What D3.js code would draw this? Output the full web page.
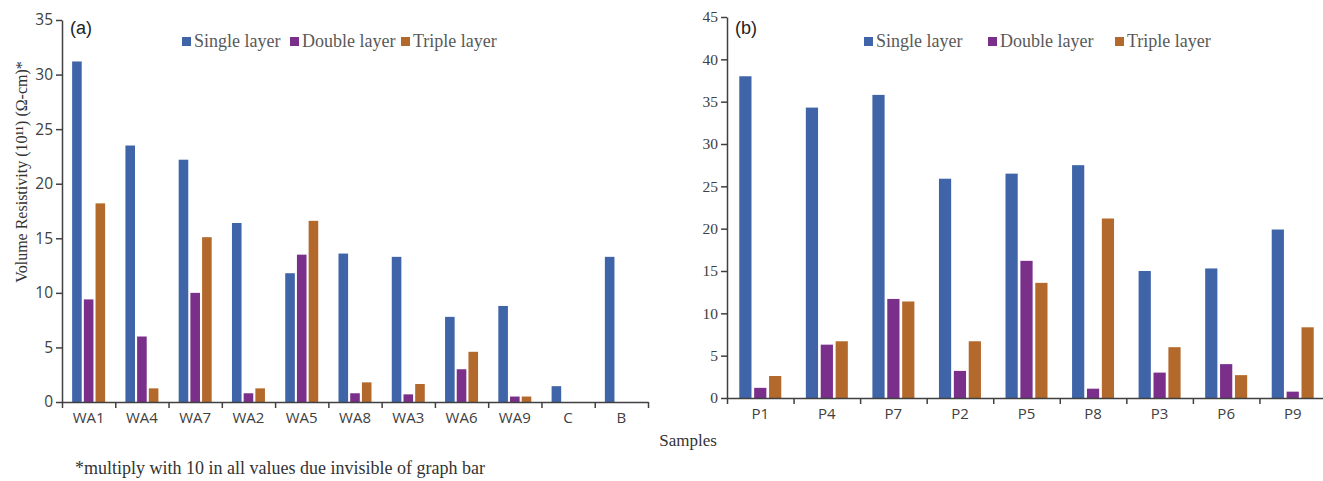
<!DOCTYPE html>
<html>
<head>
<meta charset="utf-8">
<script src="https://cdn.jsdelivr.net/npm/d3@7"></script>
<style>
  body { margin: 0; background: #fff; }
  svg { display: block; }
</style>
</head>
<body>
<div id="chart"></div>
<script>
const seriesNames = ['Single layer', 'Double layer', 'Triple layer'];
const colors = ['#3f65a8', '#7a2f8a', '#b3692b'];

// panel (a)
const samplesA = ['WA1', 'WA4', 'WA7', 'WA2', 'WA5', 'WA8', 'WA3', 'WA6', 'WA9', 'C', 'B'];
const singleA = [31.2, 23.5, 22.2, 16.4, 11.8, 13.6, 13.3, 7.8, 8.8, 1.45, 13.3];
const doubleA = [9.4, 6.0, 10.0, 0.8, 13.5, 0.8, 0.7, 3.0, 0.5, null, null];
const tripleA = [18.2, 1.25, 15.1, 1.25, 16.6, 1.8, 1.65, 4.6, 0.5, null, null];
const ticksA = [0, 5, 10, 15, 20, 25, 30, 35];

// panel (b)
const samplesB = ['P1', 'P4', 'P7', 'P2', 'P5', 'P8', 'P3', 'P6', 'P9'];
const singleB = [38.0, 34.3, 35.8, 25.9, 26.5, 27.5, 15.0, 15.3, 19.9];
const doubleB = [1.2, 6.3, 11.7, 3.2, 16.2, 1.1, 3.0, 4.0, 0.75];
const tripleB = [2.6, 6.7, 11.4, 6.7, 13.6, 21.2, 6.0, 2.7, 8.35];
const ticksB = [0, 5, 10, 15, 20, 25, 30, 35, 40, 45];

const fullWidth = 1323;
const fullHeight = 481;
const axisColor = '#404040';
const textGray = '#595959';

const svg = d3.select('#chart')
  .append('svg')
  .attr('width', fullWidth)
  .attr('height', fullHeight);

function drawPanel(opts) {
  const { samples, values, ticks, x0, x1, y0, y1, groupW, yFont, tag, legendX } = opts;

  const x = d3.scaleBand()
    .domain(samples)
    .range([x0, x1]);

  const xIdx = d3.scaleLinear()
    .domain([0, samples.length])
    .range([x0, x1]);

  const xSub = d3.scaleBand()
    .domain(seriesNames)
    .range([0, groupW])
    .paddingInner(0.18);

  const y = d3.scaleLinear()
    .domain([0, d3.max(ticks)])
    .range([y0, y1]);

  const g = svg.append('g');

  // bars
  const rows = [];
  samples.forEach((s, i) => {
    seriesNames.forEach((name, k) => {
      const v = values[k][i];
      if (v !== null) rows.push({ sample: s, series: name, k: k, value: v });
    });
  });

  g.selectAll('rect.bar')
    .data(rows)
    .enter()
    .append('rect')
    .attr('class', 'bar')
    .attr('x', d => x(d.sample) + (x.bandwidth() - groupW) / 2 + xSub(d.series))
    .attr('y', d => y(d.value))
    .attr('width', xSub.bandwidth())
    .attr('height', d => y(0) - y(d.value))
    .attr('fill', d => colors[d.k]);

  // y axis
  const yAxis = g.append('g')
    .attr('transform', `translate(${x0}, 0)`)
    .call(d3.axisLeft(y).tickValues(ticks).tickSize(6).tickSizeOuter(0).tickPadding(3));
  yAxis.select('.domain').attr('stroke', axisColor).attr('stroke-width', 1.5);
  yAxis.selectAll('.tick line').attr('stroke', axisColor).attr('stroke-width', 1.5);
  yAxis.selectAll('.tick text')
    .attr('fill', axisColor)
    .style('font-family', yFont)
    .style('font-size', '15.5px');

  // x axis line and tick marks at band edges
  const xTicks = g.append('g')
    .attr('transform', `translate(0, ${y0})`)
    .call(d3.axisBottom(xIdx).tickValues(d3.range(samples.length + 1)).tickFormat('').tickSize(6).tickSizeOuter(0));
  xTicks.select('.domain').attr('stroke', axisColor).attr('stroke-width', 1.5);
  xTicks.selectAll('.tick line').attr('stroke', axisColor).attr('stroke-width', 1.5);

  // x labels
  const xLabels = g.append('g')
    .attr('transform', `translate(0, ${y0})`)
    .call(d3.axisBottom(x).tickSize(0).tickPadding(10));
  xLabels.select('.domain').remove();
  xLabels.selectAll('.tick text')
    .attr('fill', axisColor)
    .style('font-family', '"Open Sans", "Liberation Sans", sans-serif')
    .style('font-size', '15px');

  // panel tag
  g.append('text')
    .attr('x', x0 + 8)
    .attr('y', 34)
    .attr('fill', '#222')
    .style('font-family', '"Liberation Sans", Arial, sans-serif')
    .style('font-size', '18px')
    .text(tag);

  // legend
  const legend = g.append('g');
  seriesNames.forEach((name, k) => {
    legend.append('rect')
      .attr('x', legendX[k])
      .attr('y', 37)
      .attr('width', 9)
      .attr('height', 9)
      .attr('fill', colors[k]);
    legend.append('text')
      .attr('x', legendX[k] + 12)
      .attr('y', 47)
      .attr('fill', textGray)
      .style('font-family', '"Liberation Serif", "Times New Roman", serif')
      .style('font-size', '18px')
      .text(name);
  });
}

drawPanel({
  samples: samplesA,
  values: [singleA, doubleA, tripleA],
  ticks: ticksA,
  x0: 62, x1: 648, y0: 402, y1: 20,
  groupW: 33,
  yFont: '"Open Sans", "Liberation Sans", sans-serif',
  tag: '(a)',
  legendX: [182, 290, 401]
});

drawPanel({
  samples: samplesB,
  values: [singleB, doubleB, tripleB],
  ticks: ticksB,
  x0: 727, x1: 1326, y0: 398, y1: 17,
  groupW: 42,
  yFont: '"Liberation Serif", "Times New Roman", serif',
  tag: '(b)',
  legendX: [864, 988, 1115]
});

// y axis title
svg.append('text')
  .attr('transform', 'translate(27, 172) rotate(-90)')
  .attr('text-anchor', 'middle')
  .attr('fill', '#333')
  .style('font-family', '"Liberation Serif", "Times New Roman", serif')
  .style('font-size', '16px')
  .text('Volume Resistivity (10¹¹) (Ω-cm)*');

// x axis title
svg.append('text')
  .attr('x', 688)
  .attr('y', 446)
  .attr('text-anchor', 'middle')
  .attr('fill', '#333')
  .style('font-family', '"Liberation Serif", "Times New Roman", serif')
  .style('font-size', '17px')
  .text('Samples');

// footnote
svg.append('text')
  .attr('x', 75)
  .attr('y', 474)
  .attr('fill', '#333')
  .style('font-family', '"Liberation Serif", "Times New Roman", serif')
  .style('font-size', '18px')
  .text('*multiply with 10 in all values due invisible of graph bar');
</script>
</body>
</html>
